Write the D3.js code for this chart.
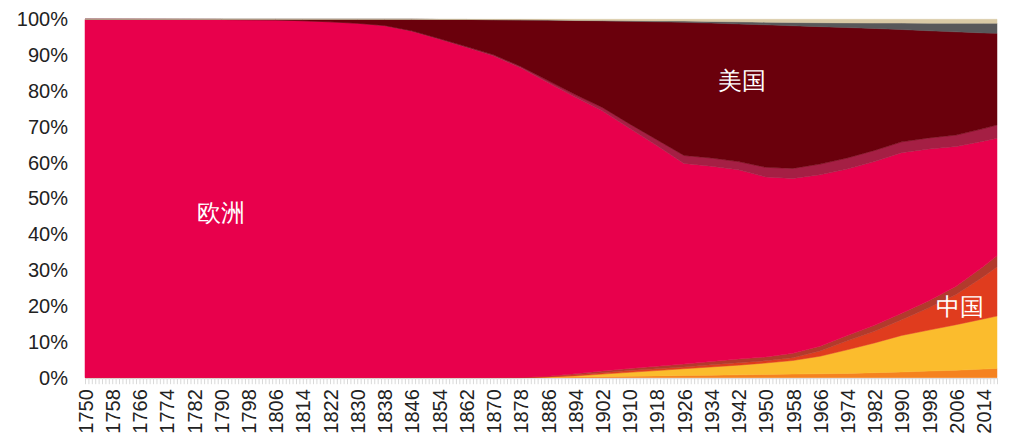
<!DOCTYPE html>
<html>
<head>
<meta charset="utf-8">
<script src="https://cdn.jsdelivr.net/npm/d3@7/dist/d3.min.js"></script>
<style>
  html, body { margin: 0; padding: 0; background: #fff; }
  svg { display: block; }
  text { font-family: "Liberation Sans", Arial, sans-serif; }
</style>
</head>
<body>
<svg id="chart" width="1012" height="441"></svg>
<script>
// ---- data (share of cumulative emissions, %) ----
const years    = [1750, 1790, 1806, 1814, 1822, 1830, 1838, 1846, 1854, 1862, 1870, 1878, 1886, 1894, 1902, 1910, 1918, 1926, 1934, 1942, 1950, 1958, 1966, 1974, 1982, 1990, 1998, 2006, 2014, 2018];
const africa   = [0, 0, 0, 0, 0, 0, 0, 0, 0, 0, 0, 0, 0.1, 0.2, 0.3, 0.4, 0.5, 0.6, 0.7, 0.8, 0.9, 1.0, 1.1, 1.2, 1.4, 1.6, 1.85, 2.1, 2.4, 2.6];
const asiaRest = [0, 0, 0, 0, 0, 0, 0, 0, 0, 0, 0, 0.02, 0.1, 0.3, 0.7, 1.1, 1.5, 1.9, 2.3, 2.7, 3.2, 3.8, 4.9, 6.6, 8.3, 10.2, 11.45, 12.7, 14.0, 14.6];
const china    = [0, 0, 0, 0, 0, 0, 0, 0, 0, 0, 0, 0.01, 0.05, 0.3, 0.4, 0.5, 0.5, 0.5, 0.6, 0.7, 0.6, 0.8, 1.45, 2.5, 3.25, 4.4, 6.2, 8.4, 11.8, 13.7];
const india    = [0, 0, 0, 0, 0, 0, 0, 0, 0, 0, 0, 0.02, 0.15, 0.3, 0.5, 0.6, 0.7, 0.8, 0.9, 1.0, 1.1, 1.2, 1.35, 1.5, 1.65, 1.8, 2.0, 2.3, 2.8, 3.1];
const europe   = [100, 99.95, 99.8, 99.6, 99.3, 98.9, 98.2, 96.7, 94.5, 92.2, 89.8, 86.4, 82.0, 77.2, 72.6, 67.0, 61.6, 56.0, 54.5, 52.8, 50.2, 48.8, 47.8, 46.4, 45.7, 44.8, 42.3, 39.0, 35.0, 32.8];
const americas = [0, 0, 0, 0, 0, 0, 0.1, 0.1, 0.15, 0.2, 0.3, 0.4, 0.5, 0.7, 0.9, 1.2, 1.6, 2.2, 2.3, 2.3, 2.7, 2.8, 3.0, 3.1, 3.1, 3.0, 3.1, 3.2, 3.5, 3.7];
const usa      = [0, 0.05, 0.2, 0.4, 0.7, 1.1, 1.7, 3.2, 5.3, 7.55, 9.8, 13.0, 16.88, 20.65, 24.15, 28.65, 32.9, 37.15, 37.65, 38.4, 39.75, 39.8, 38.35, 36.4, 34.05, 31.35, 29.9, 28.8, 26.7, 25.6];
const otherA   = [0, 0, 0, 0, 0, 0, 0, 0, 0, 0, 0, 0, 0.02, 0.05, 0.1, 0.15, 0.25, 0.35, 0.45, 0.6, 0.75, 0.9, 1.1, 1.3, 1.5, 1.8, 2.1, 2.4, 2.7, 2.8];
const otherB   = [0, 0, 0, 0, 0, 0, 0, 0, 0.05, 0.05, 0.1, 0.15, 0.2, 0.3, 0.35, 0.4, 0.45, 0.5, 0.6, 0.7, 0.8, 0.9, 0.95, 1.0, 1.05, 1.05, 1.1, 1.1, 1.1, 1.1];

const seriesKeys   = ["africa", "asiaRest", "china", "india", "europe", "americas", "usa", "otherA", "otherB"];
const seriesValues = { africa, asiaRest, china, india, europe, americas, usa, otherA, otherB };
const seriesColors = ["#F5821F", "#FBBC2D", "#E03C1E", "#B23A2C", "#E8004C", "#A51F44", "#6A000C", "#58585A", "#D9C9A5"];

const yTicks = [0, 0.1, 0.2, 0.3, 0.4, 0.5, 0.6, 0.7, 0.8, 0.9, 1.0];
const firstYear = 1750, lastYear = 2018, labelStep = 8;

const areaLabels = [
  { text: "欧洲", year: 1790, value: 0.46 },
  { text: "美国", year: 1943, value: 0.83 },
  { text: "中国", year: 2007, value: 0.20 }
];

// ---- build table ----
const table = years.map((yr, i) => {
  const row = { year: yr };
  seriesKeys.forEach(k => row[k] = seriesValues[k][i]);
  return row;
});

const svg = d3.select("#chart");
const plotL = 85, plotR = 997, plotT = 19.3, plotB = 377.7;

const x = d3.scaleLinear().domain([firstYear, lastYear]).range([plotL, plotR]);
const y = d3.scaleLinear().domain([0, 1]).range([plotB, plotT]);

const stack = d3.stack().keys(seriesKeys).offset(d3.stackOffsetExpand);
const layers = stack(table);

const area = d3.area()
  .x(d => x(d.data.year))
  .y0(d => y(d[0]))
  .y1(d => y(d[1]));

svg.append("g").selectAll("path")
  .data(layers)
  .join("path")
  .attr("d", area)
  .attr("fill", (d, i) => seriesColors[i])
  .attr("stroke", (d, i) => seriesColors[i])
  .attr("stroke-width", 0.5);

// y axis
const yAxis = d3.axisLeft(y).tickValues(yTicks).tickFormat(d3.format(".0%")).tickSize(0).tickPadding(17);
const gy = svg.append("g").attr("transform", `translate(${plotL},0)`).call(yAxis);
gy.select(".domain").remove();
gy.selectAll("text").attr("font-size", 20).attr("fill", "#222")
  .attr("font-family", "'Liberation Sans', Arial, sans-serif");

// x axis
const allYears = d3.range(firstYear, lastYear + 1);
const xAxis = d3.axisBottom(x).tickValues(allYears)
  .tickFormat(d => ((d - firstYear) % labelStep === 0 ? String(d) : ""))
  .tickSizeInner(6).tickSizeOuter(0);
const gx = svg.append("g").attr("transform", `translate(0,${plotB + 0.5})`).call(xAxis);
gx.select(".domain").attr("stroke", "#d9d9d9");
gx.selectAll(".tick line").attr("stroke", "#d9d9d9").attr("stroke-width", 1);
gx.selectAll(".tick text")
  .attr("font-size", 20).attr("fill", "#222")
  .attr("font-family", "'Liberation Sans', Arial, sans-serif")
  .attr("text-anchor", "end")
  .attr("transform", "rotate(-90)")
  .attr("x", -11).attr("y", 0).attr("dy", "0.36em");

// area labels
svg.append("g").selectAll("text")
  .data(areaLabels)
  .join("text")
  .attr("x", d => x(d.year))
  .attr("y", d => y(d.value))
  .attr("text-anchor", "middle")
  .attr("dy", "0.36em")
  .attr("fill", "#fff")
  .attr("font-size", 24)
  .attr("font-family", "'Noto Sans CJK SC', sans-serif")
  .text(d => d.text);
</script>
</body>
</html>
